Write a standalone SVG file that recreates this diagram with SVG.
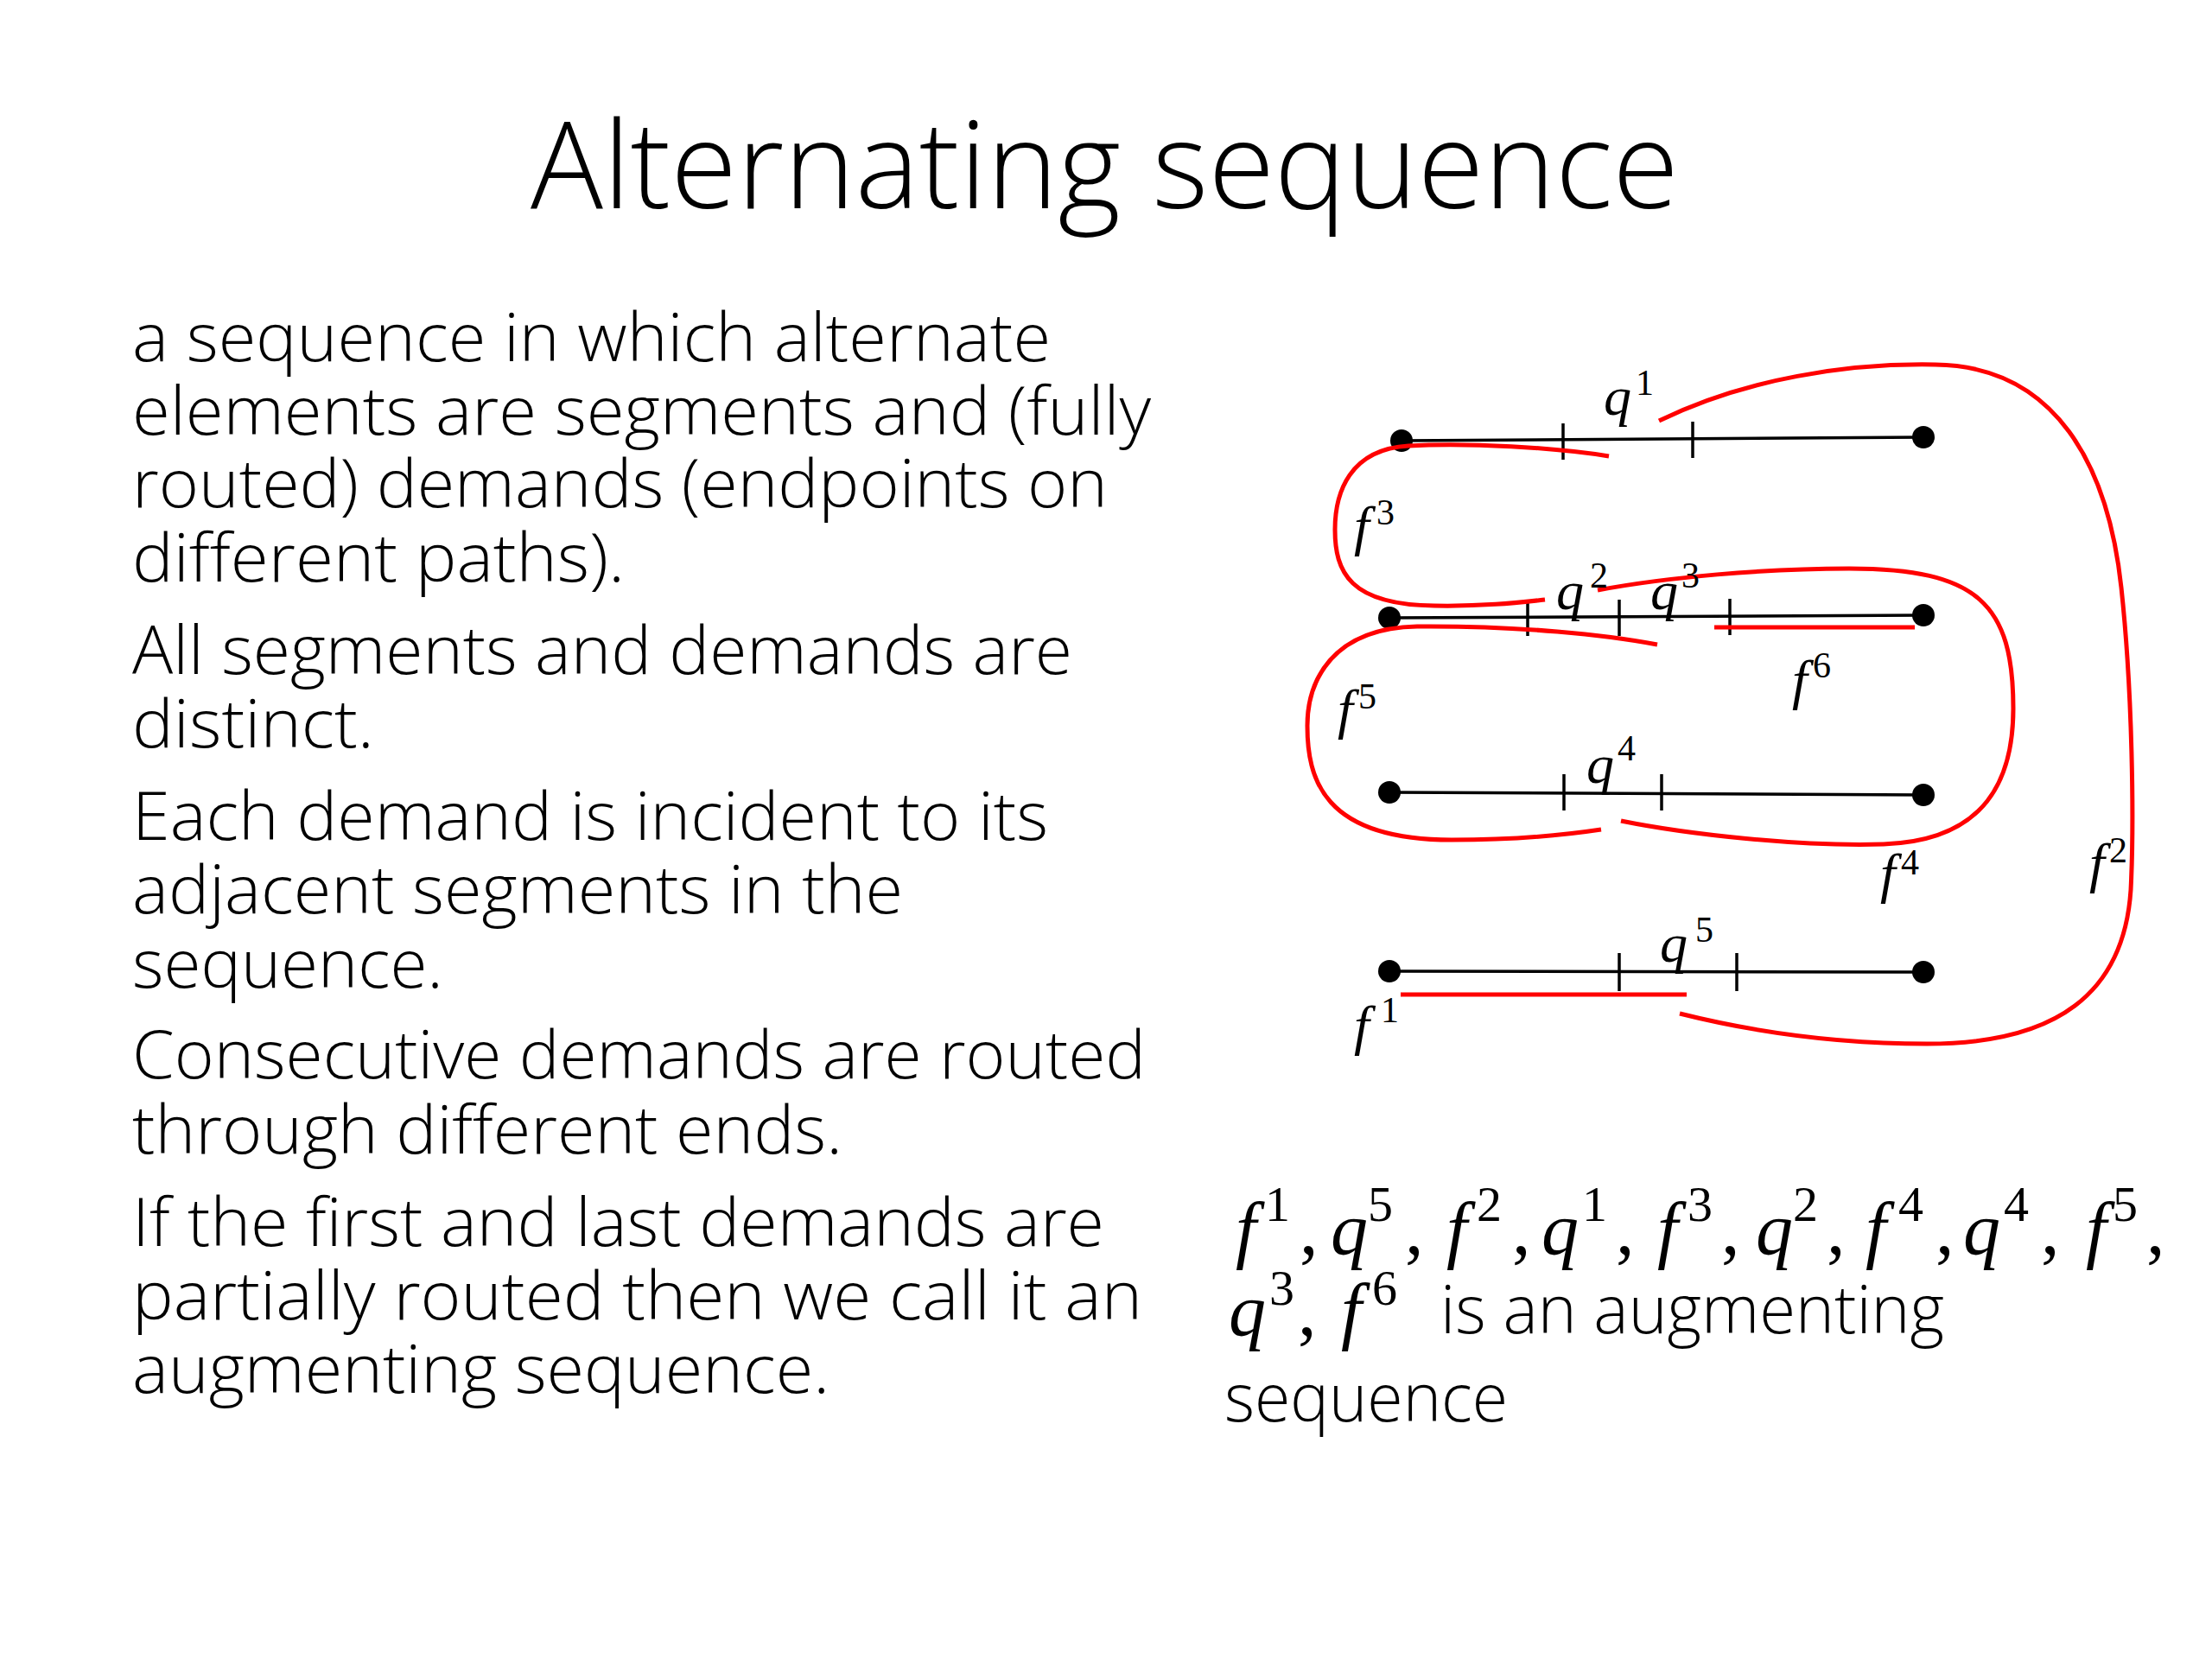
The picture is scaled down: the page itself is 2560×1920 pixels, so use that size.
<svg xmlns="http://www.w3.org/2000/svg" width="2560" height="1920" viewBox="0 0 2560 1920">
<style>
  .title{font-family:"Open Sans","Noto Sans","Liberation Sans",sans-serif;font-weight:300;font-size:140px;fill:#000}
  .body{font-family:"Open Sans","Noto Sans","Liberation Sans",sans-serif;font-weight:300;font-size:78px;fill:#000}
  .m{font-family:"Liberation Serif","DejaVu Serif",serif;font-style:italic;fill:#000}
  .d{font-family:"Liberation Serif","DejaVu Serif",serif;font-style:normal;fill:#000}
  .lab{font-size:64px}
  .labs{font-size:42px}
  .seq{font-size:86px}
  .seqs{font-size:58px}
  .path{stroke:#000;stroke-width:3.5;fill:none}
  .tick{stroke:#000;stroke-width:3.5}
  .dot{fill:#000}
  .dem{stroke:#ff0000;stroke-width:5;fill:none;stroke-linecap:butt}
</style>
<rect width="2560" height="1920" fill="#fff"/>

<g id="title">
  <text class="title" x="614" y="241" textLength="1329" lengthAdjust="spacingAndGlyphs">Alternating sequence</text>
</g>

<g id="definition-text" class="body">
  <text x="153" y="418" textLength="1063" lengthAdjust="spacingAndGlyphs">a sequence in which alternate</text>
  <text x="153" y="503" textLength="1179" lengthAdjust="spacingAndGlyphs">elements are segments and (fully</text>
  <text x="153" y="587" textLength="1129" lengthAdjust="spacingAndGlyphs">routed) demands (endpoints on</text>
  <text x="153" y="673" textLength="570" lengthAdjust="spacingAndGlyphs">different paths).</text>
  <text x="153" y="780" textLength="1088" lengthAdjust="spacingAndGlyphs">All segments and demands are</text>
  <text x="153" y="865" textLength="280" lengthAdjust="spacingAndGlyphs">distinct.</text>
  <text x="153" y="972" textLength="1060" lengthAdjust="spacingAndGlyphs">Each demand is incident to its</text>
  <text x="153" y="1057" textLength="892" lengthAdjust="spacingAndGlyphs">adjacent segments in the</text>
  <text x="153" y="1143" textLength="360" lengthAdjust="spacingAndGlyphs">sequence.</text>
  <text x="153" y="1248" textLength="1173" lengthAdjust="spacingAndGlyphs">Consecutive demands are routed</text>
  <text x="153" y="1335" textLength="822" lengthAdjust="spacingAndGlyphs">through different ends.</text>
  <text x="153" y="1442" textLength="1125" lengthAdjust="spacingAndGlyphs">If the first and last demands are</text>
  <text x="153" y="1527" textLength="1169" lengthAdjust="spacingAndGlyphs">partially routed then we call it an</text>
  <text x="153" y="1612" textLength="807" lengthAdjust="spacingAndGlyphs">augmenting sequence.</text>
</g>

<g id="path-1">
  <line class="path" x1="1622" y1="510" x2="2226" y2="506"/>
  <line class="tick" x1="1809" y1="490" x2="1809" y2="532"/>
  <line class="tick" x1="1959" y1="488" x2="1959" y2="530"/>
  <circle class="dot" cx="1622" cy="510" r="13"/>
  <circle class="dot" cx="2226" cy="506" r="13"/>
</g>
<g id="path-2">
  <line class="path" x1="1608" y1="715" x2="2226" y2="712"/>
  <line class="tick" x1="1768" y1="694" x2="1768" y2="736"/>
  <line class="tick" x1="1874" y1="694" x2="1874" y2="736"/>
  <line class="tick" x1="2002" y1="693" x2="2002" y2="735"/>
  <circle class="dot" cx="1608" cy="715" r="13"/>
  <circle class="dot" cx="2226" cy="712" r="13"/>
</g>
<g id="path-3">
  <line class="path" x1="1608" y1="917" x2="2226" y2="920"/>
  <line class="tick" x1="1810" y1="896" x2="1810" y2="938"/>
  <line class="tick" x1="1923" y1="896" x2="1923" y2="938"/>
  <circle class="dot" cx="1608" cy="917" r="13"/>
  <circle class="dot" cx="2226" cy="920" r="13"/>
</g>
<g id="path-4">
  <line class="path" x1="1608" y1="1124" x2="2226" y2="1125"/>
  <line class="tick" x1="1874" y1="1103" x2="1874" y2="1147"/>
  <line class="tick" x1="2010" y1="1103" x2="2010" y2="1147"/>
  <circle class="dot" cx="1608" cy="1124" r="13"/>
  <circle class="dot" cx="2226" cy="1125" r="13"/>
</g>

<g id="demands">
  <path id="f3" class="dem" d="M1862,528 C1800,518 1700,512 1630,516 C1562,520 1545,570 1545,613 C1545,662 1562,700 1660,701 C1720,702 1760,697 1788,694"/>
  <path id="f5" class="dem" d="M1918,746 C1860,735 1760,724 1640,725 C1540,727 1513,790 1513,840 C1513,900 1530,972 1680,972 C1760,972 1820,965 1853,960"/>
  <path id="f4" class="dem" d="M1876,950 C1950,965 2080,980 2180,977 C2300,973 2330,900 2330,820 C2330,700 2290,658 2140,658 C2040,658 1930,668 1849,683"/>
  <path id="f2" class="dem" d="M1920,487 C2020,438 2140,420 2240,422 C2380,424 2440,540 2455,680 C2468,800 2470,950 2466,1030 C2458,1150 2380,1208 2230,1208 C2120,1208 2020,1192 1944,1173"/>
  <path id="f6" class="dem" d="M1984,726 L2216,726"/>
  <path id="f1" class="dem" d="M1621,1151 L1952,1151"/>
</g>

<g id="diagram-labels">
  <text class="m lab" x="1856" y="480">q</text><text class="d labs" x="1893" y="457">1</text>
  <text class="m lab" x="1801" y="705">q</text><text class="d labs" x="1840" y="680">2</text>
  <text class="m lab" x="1910" y="705">q</text><text class="d labs" x="1946" y="680">3</text>
  <text class="m lab" x="1836" y="906">q</text><text class="d labs" x="1872" y="880">4</text>
  <text class="m lab" x="1921" y="1113">q</text><text class="d labs" x="1962" y="1090">5</text>
  <text class="m lab" x="1567" y="1208">f</text><text class="d labs" x="1598" y="1183">1</text>
  <text class="m lab" x="2418" y="1020">f</text><text class="d labs" x="2441" y="998">2</text>
  <text class="m lab" x="1567" y="630">f</text><text class="d labs" x="1593" y="607">3</text>
  <text class="m lab" x="2176" y="1032">f</text><text class="d labs" x="2200" y="1012">4</text>
  <text class="m lab" x="1548" y="842">f</text><text class="d labs" x="1572" y="820">5</text>
  <text class="m lab" x="2074" y="808">f</text><text class="d labs" x="2098" y="784">6</text>
</g>

<g id="example-text">
  <text class="m seq" x="1430" y="1451">f</text><text class="d seqs" x="1464" y="1413">1</text><text class="d seq" x="1504" y="1451">,</text>
  <text class="m seq" x="1540" y="1451">q</text><text class="d seqs" x="1583" y="1413">5</text><text class="d seq" x="1626" y="1451">,</text>
  <text class="m seq" x="1674" y="1451">f</text><text class="d seqs" x="1709" y="1413">2</text><text class="d seq" x="1750" y="1451">,</text>
  <text class="m seq" x="1784" y="1451">q</text><text class="d seqs" x="1831" y="1413">1</text><text class="d seq" x="1870" y="1451">,</text>
  <text class="m seq" x="1918" y="1451">f</text><text class="d seqs" x="1953" y="1413">3</text><text class="d seq" x="1992" y="1451">,</text>
  <text class="m seq" x="2032" y="1451">q</text><text class="d seqs" x="2075" y="1413">2</text><text class="d seq" x="2114" y="1451">,</text>
  <text class="m seq" x="2159" y="1451">f</text><text class="d seqs" x="2197" y="1413">4</text><text class="d seq" x="2240" y="1451">,</text>
  <text class="m seq" x="2272" y="1451">q</text><text class="d seqs" x="2319" y="1413">4</text><text class="d seq" x="2362" y="1451">,</text>
  <text class="m seq" x="2414" y="1451">f</text><text class="d seqs" x="2445" y="1413">5</text><text class="d seq" x="2484" y="1451">,</text>
  <text class="m seq" x="1422" y="1545">q</text><text class="d seqs" x="1469" y="1510">3</text><text class="d seq" x="1502" y="1545">,</text>
  <text class="m seq" x="1552" y="1545">f</text><text class="d seqs" x="1588" y="1510">6</text>
  <text class="body" x="1667" y="1543" textLength="583" lengthAdjust="spacingAndGlyphs">is an augmenting</text>
  <text class="body" x="1417" y="1645" textLength="328" lengthAdjust="spacingAndGlyphs">sequence</text>
</g>
</svg>
